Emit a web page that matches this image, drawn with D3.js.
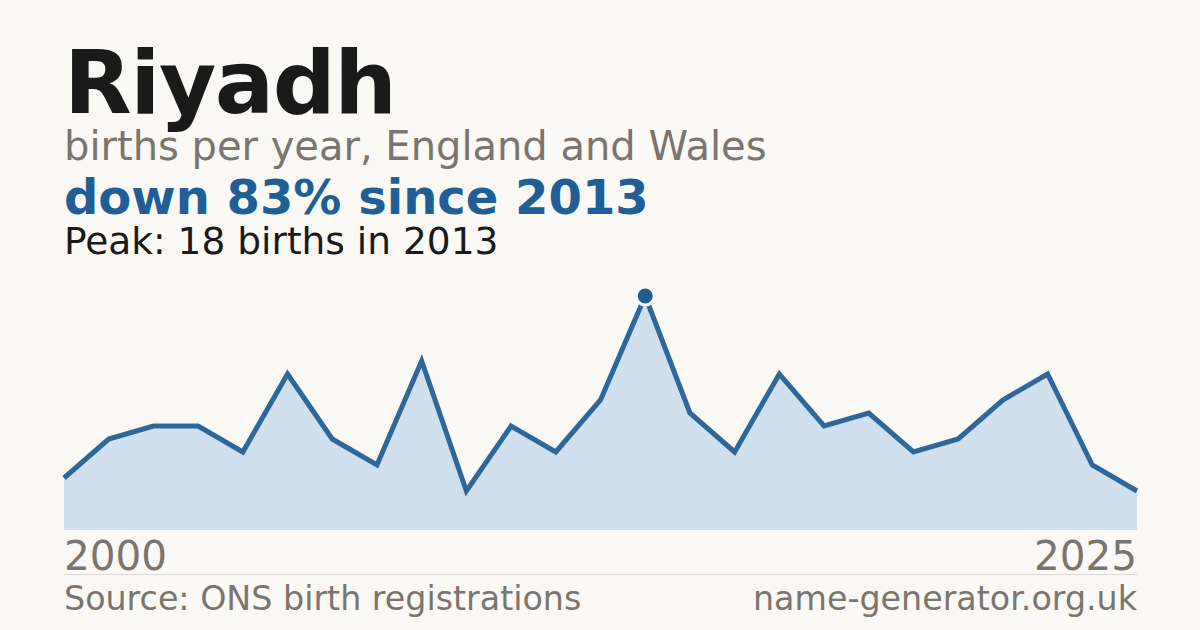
<!DOCTYPE html>
<html>
<head>
<meta charset="utf-8">
<script src="https://cdn.jsdelivr.net/npm/d3@7"></script>
<style>
  html, body { margin: 0; padding: 0; background: #faf9f5; }
  svg { display: block; font-family: "DejaVu Sans", sans-serif; }
</style>
</head>
<body>
<svg id="chart" width="1200" height="630"></svg>
<script>
// births per year for the name
const years = d3.range(2000, 2025)
const births = [4, 7, 8, 8, 6, 12, 7, 5, 13, 3, 8, 6, 10, 18, 9, 6, 12, 8, 9, 6, 7, 10, 12, 5, 3]
const tickLabels = ['2000', '2025']

const W = 1200, H = 630
const plotLeft = 64, plotRight = 1137, plotTop = 296, plotBottom = 530
const grey = '#7a756e'

const svg = d3.select('#chart')
svg.append('rect').attr('width', W).attr('height', H).attr('fill', '#faf9f5')

const x = d3.scaleLinear().domain(d3.extent(years)).range([plotLeft, plotRight])
const y = d3.scaleLinear().domain([0, d3.max(births)]).range([plotBottom, plotTop])

const data = years.map((yr, i) => ({ year: yr, value: births[i] }))
const peak = data.reduce((a, b) => b.value > a.value ? b : a)
const last = data[data.length - 1]
const drop = Math.round((1 - last.value / peak.value) * 100)

// headings
svg.append('text').attr('x', plotLeft).attr('y', 113)
  .attr('font-size', 88).attr('font-weight', 'bold').attr('letter-spacing', -1.5)
  .attr('fill', '#1a1a1a').text('Riyadh')
svg.append('text').attr('x', plotLeft).attr('y', 160)
  .attr('font-size', 40).attr('fill', grey).text('births per year, England and Wales')
svg.append('text').attr('x', plotLeft).attr('y', 214)
  .attr('font-size', 48).attr('font-weight', 'bold').attr('fill', '#1f5f96')
  .text(`down ${drop}% since ${peak.year}`)
svg.append('text').attr('x', plotLeft).attr('y', 254)
  .attr('font-size', 37.5).attr('fill', '#1a1a1a')
  .text(`Peak: ${peak.value} births in ${peak.year}`)

// area + line
const area = d3.area().x(d => x(d.year)).y0(plotBottom).y1(d => y(d.value))
const line = d3.line().x(d => x(d.year)).y(d => y(d.value))

svg.append('path').datum(data).attr('d', area).attr('fill', '#d0e0ef')
svg.append('path').datum(data).attr('d', line)
  .attr('fill', 'none').attr('stroke', '#2e679a').attr('stroke-width', 5)
  .attr('stroke-linejoin', 'miter')

svg.append('circle').attr('cx', x(peak.year)).attr('cy', y(peak.value)).attr('r', 9)
  .attr('fill', '#1f5f96').attr('stroke', '#faf9f5').attr('stroke-width', 3)

// year labels
svg.append('text').attr('x', plotLeft).attr('y', 570)
  .attr('font-size', 40.5).attr('fill', grey).text(tickLabels[0])
svg.append('text').attr('x', plotRight).attr('y', 570).attr('text-anchor', 'end')
  .attr('font-size', 40.5).attr('fill', grey).text(tickLabels[1])

svg.append('line').attr('x1', plotLeft).attr('x2', plotRight).attr('y1', 574.5).attr('y2', 574.5)
  .attr('stroke', '#dcdad4').attr('stroke-width', 1)

// footer
svg.append('text').attr('x', plotLeft).attr('y', 610)
  .attr('font-size', 33.3).attr('fill', grey).text('Source: ONS birth registrations')
svg.append('text').attr('x', plotRight).attr('y', 610).attr('text-anchor', 'end')
  .attr('font-size', 33.3).attr('fill', grey).text('name-generator.org.uk')
</script>
</body>
</html>
